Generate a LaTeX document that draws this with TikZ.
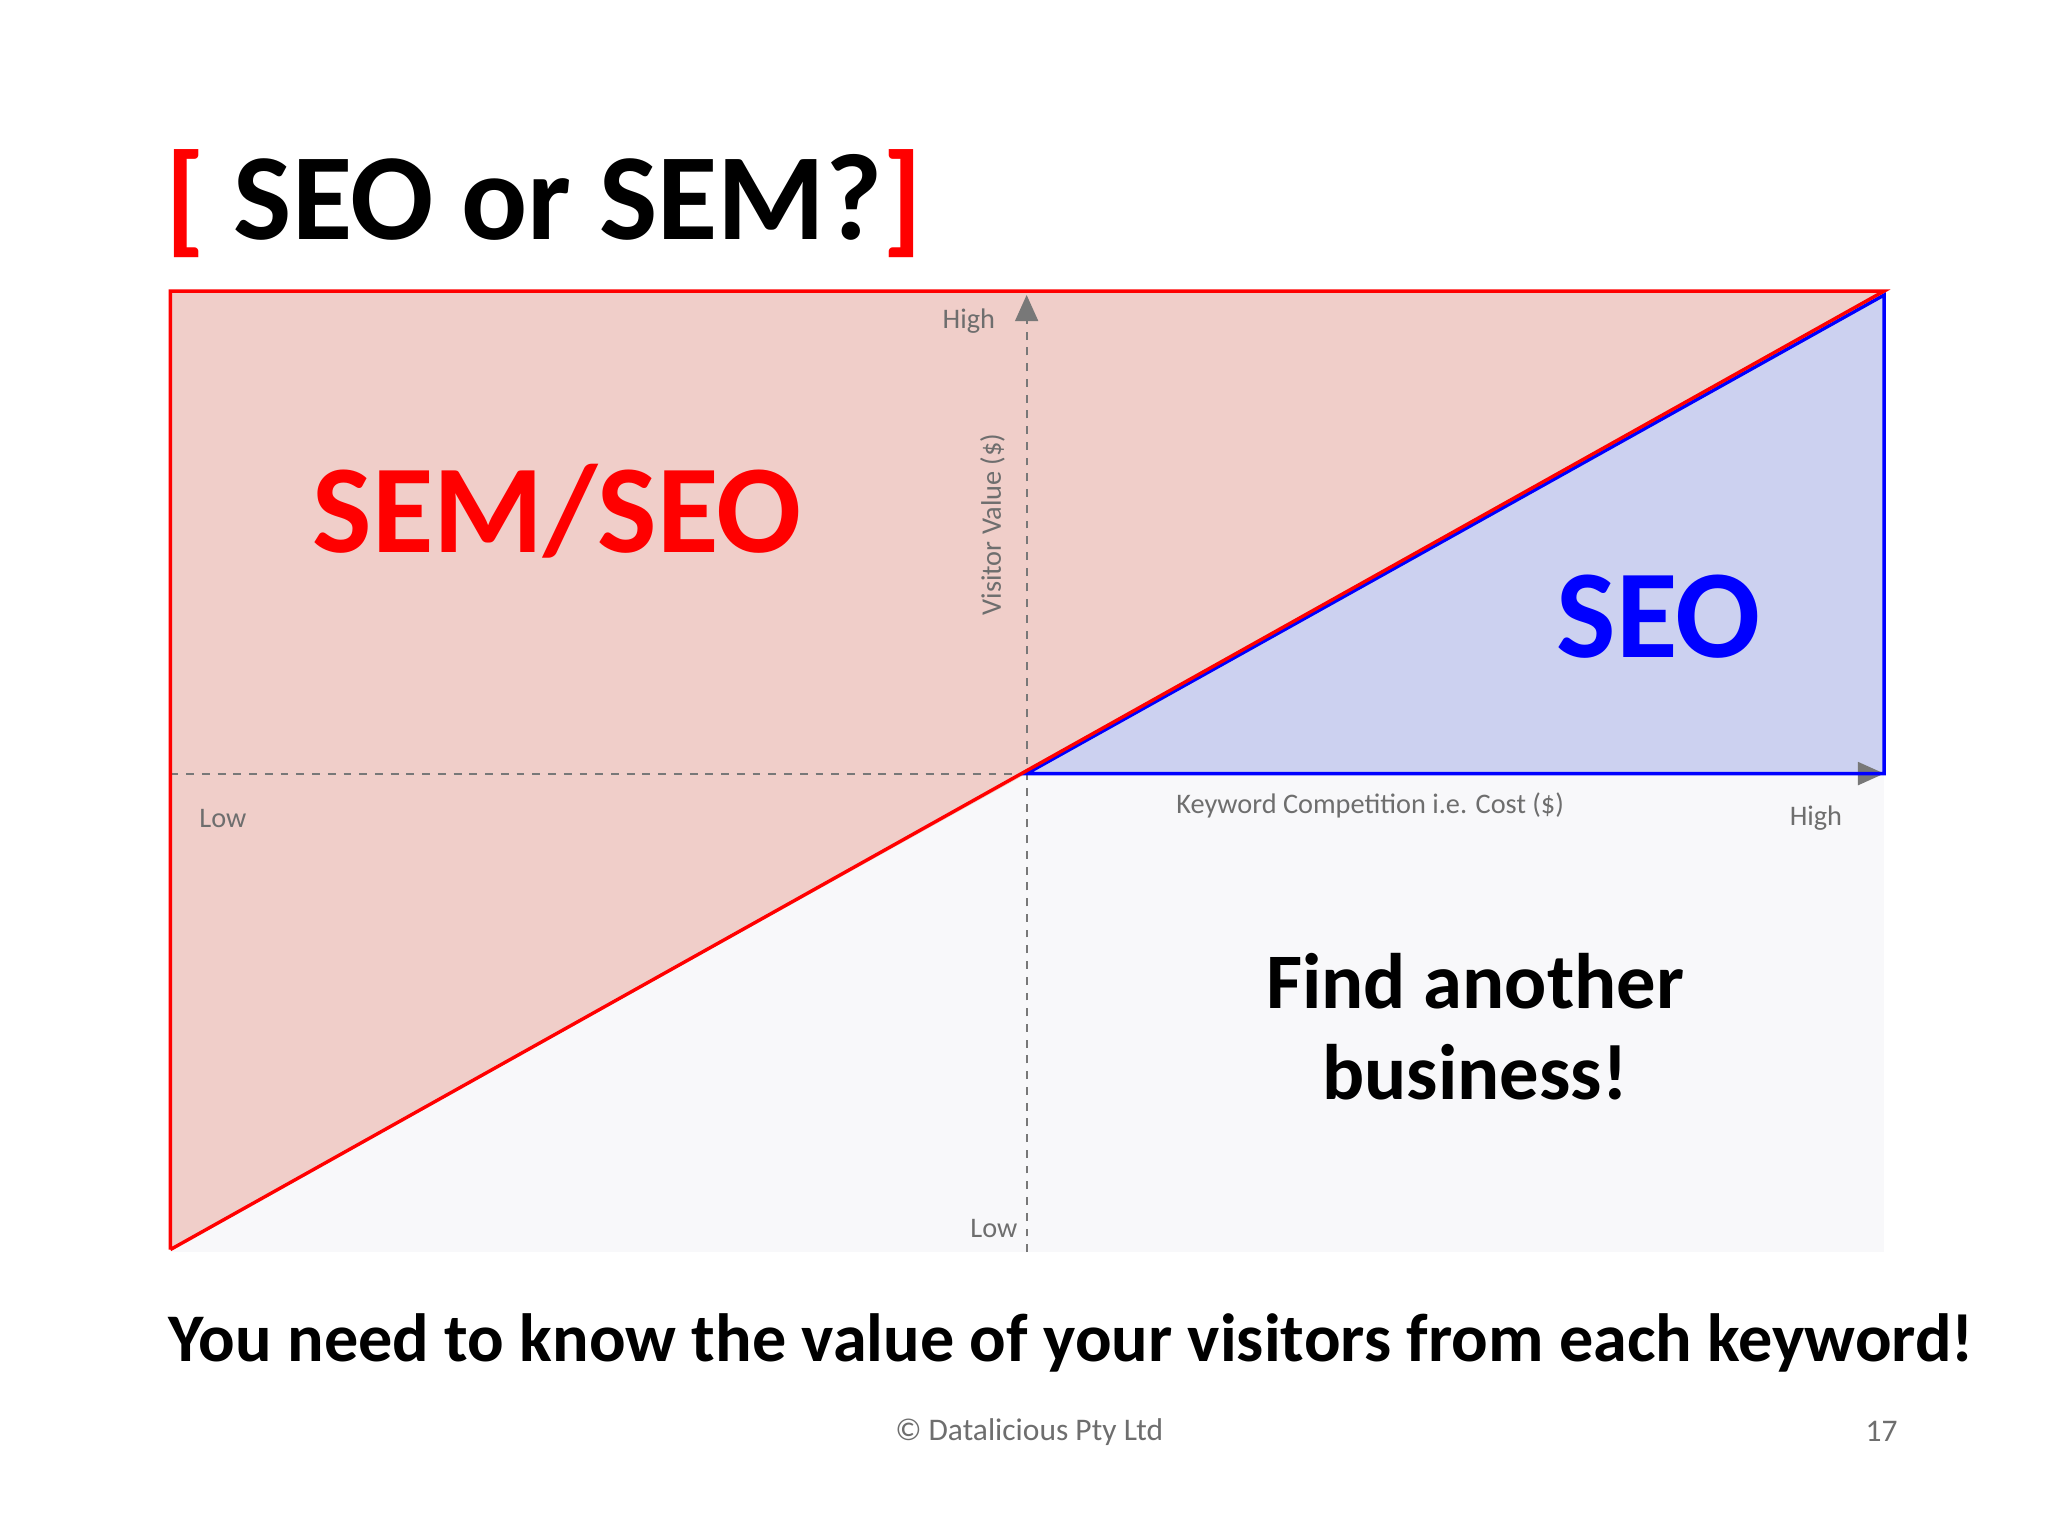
\documentclass[tikz,border=0pt]{standalone}
\usepackage{fontspec}
\setmainfont{Carlito}
\usetikzlibrary{arrows.meta}
\definecolor{pinkf}{RGB}{240,206,201}
\definecolor{bluef}{RGB}{204,209,240}
\definecolor{grayf}{RGB}{248,248,250}
\definecolor{axg}{RGB}{120,120,120}
\definecolor{txg}{RGB}{110,110,110}
\definecolor{myred}{RGB}{255,0,0}
\definecolor{myblue}{RGB}{0,0,255}
\tikzset{axis/.style={axg,dashed,line width=0.8pt},
 small/.style={txg,font=\fontsize{10.8}{12}\selectfont},
 big/.style={font=\fontsize{48}{56}\selectfont\bfseries}}
\begin{document}
\begin{tikzpicture}[x=0.5pt,y=-0.5pt]
\useasboundingbox[fill=white] (0,0) rectangle (1562,1172);
\coordinate (tl) at (130,222); \coordinate (tr) at (1437,222);
\coordinate (bl) at (130,953); \coordinate (br) at (1437,955);
\coordinate (c) at (783,590);
\fill[grayf] (tl) rectangle (br);
\fill[pinkf] (tl) -- (tr) -- (c) -- (bl) -- cycle;
\fill[bluef] (c) -- (1437,225) -- (1437,590) -- cycle;
\draw[axis] (130,590) -- (1437,590);
\draw[axis] (783,955) -- (783,222);
\fill[axg] (783,225) -- ++(-9,20) -- ++(18,0) -- cycle;
\fill[axg] (1437,590) -- ++(-20,-9) -- ++(0,18) -- cycle;
\draw[myblue,line width=1.3pt] (c) -- (1437,225) -- (1437,590) -- cycle;
\draw[myred,line width=1.3pt] (bl) -- (tl) -- (tr) -- (bl);
\node[small,anchor=east] (h1) at (766,245) {High};
\node[small,rotate=90] (vv) at (757,400) {Visitor Value (\$)};
\node[small] (l1) at (170,624) {Low};
\node[small] (kc) at (1045,614) {Keyword Competition i.e. Cost (\$)};
\node[small] (h2) at (1385,624) {High};
\node[small] (l2) at (758,937) {Low};
\node[big,myred] (sem) at (425,390) {SEM/SEO};
\node[big,myblue] (seo) at (1265,470) {SEO};
\node[align=center,font=\fontsize{30}{35}\selectfont\bfseries] (fa) at (1125,783) {Find another\\business!};
\node[font=\fontsize{47}{54}\selectfont\bfseries] (tt) at (415,155) {\textcolor{myred}{[} SEO or SEM?\textcolor{myred}{]}};
\node[font=\fontsize{26}{30}\selectfont\bfseries] (bt) at (817,1024) {You need to know the value of your visitors from each keyword!};
\node[small,font=\fontsize{12}{14}\selectfont] (ft) at (785,1092) {© Datalicious Pty Ltd};
\node[small,font=\fontsize{12}{14}\selectfont] (pg) at (1435,1092) {17};
\end{tikzpicture}
\end{document}
